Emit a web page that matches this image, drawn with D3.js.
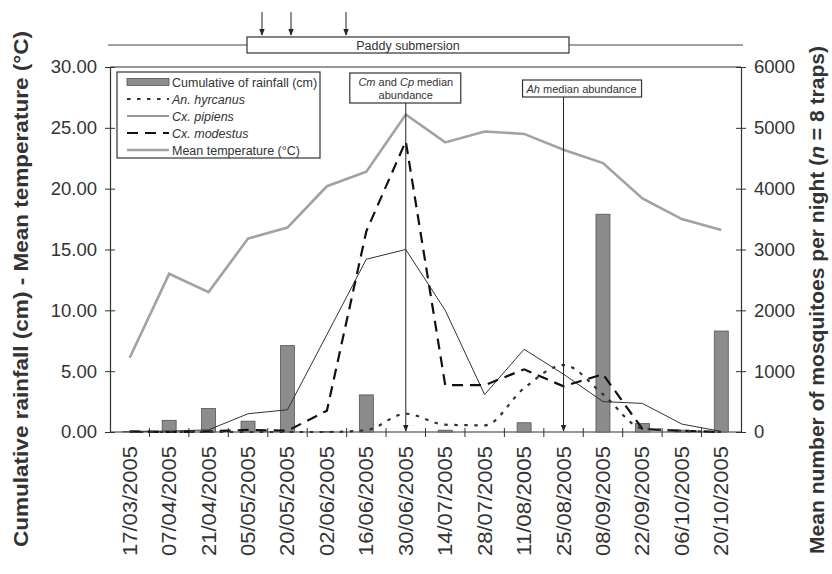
<!DOCTYPE html>
<html>
<head>
<meta charset="utf-8">
<script src="https://cdn.jsdelivr.net/npm/d3@7"></script>
<style>
  body { margin: 0; background: #fff; }
  text { font-family: "Liberation Sans", Arial, sans-serif; fill: #333; }
</style>
</head>
<body>
<svg id="chart"></svg>
<script>
// ===== DATA =====
const dates = ["17/03/2005", "07/04/2005", "21/04/2005", "05/05/2005", "20/05/2005", "02/06/2005",
    "16/06/2005", "30/06/2005", "14/07/2005", "28/07/2005", "11/08/2005", "25/08/2005",
    "08/09/2005", "22/09/2005", "06/10/2005", "20/10/2005"];
const rainfall = [0.05, 0.96, 1.93, 0.89, 7.1, 0.03, 3.05, 0, 0.15, 0, 0.76, 0, 17.9, 0.69, 0.15, 8.3];
const temperature = [6.1, 13.0, 11.5, 15.9, 16.8, 20.2, 21.4, 26.1, 23.8, 24.7, 24.5, 23.2, 22.1, 19.2, 17.5, 16.6];
const hyrcanus = [0, 0, 0, 0, 0, 0, 30, 300, 120, 110, 720, 1100, 620, 60, 20, 0];
const pipiens = [10, 15, 35, 300, 365, 1600, 2840, 3000, 2000, 615, 1360, 950, 500, 470, 130, 10];
const modestus = [10, 0, 10, 35, 20, 350, 3300, 4780, 770, 770, 1030, 750, 950, 50, 20, 0];
const leftTicks = [0, 5, 10, 15, 20, 25, 30];
const rightTicks = [0, 1000, 2000, 3000, 4000, 5000, 6000];

const width = 832, height = 574;
const margin = { left: 110, right: 91, top: 67, bottom: 142 };

const svg = d3.select("svg#chart")
    .attr("width", width)
    .attr("height", height);

svg.append("defs").append("marker")
    .attr("id", "arrow")
    .attr("viewBox", "0 0 10 10")
    .attr("refX", 9).attr("refY", 5)
    .attr("markerWidth", 7).attr("markerHeight", 7)
    .attr("orient", "auto")
    .append("path")
    .attr("d", "M0,1 L10,5 L0,9 z")
    .attr("fill", "#222");

const x = d3.scaleBand()
    .domain(dates)
    .range([margin.left, width - margin.right]);

const yLeft = d3.scaleLinear()
    .domain([0, 30])
    .range([height - margin.bottom, margin.top]);

const yRight = d3.scaleLinear()
    .domain([0, 6000])
    .range([height - margin.bottom, margin.top]);

const cx = (i) => x(dates[i]) + x.bandwidth() / 2;

// ===== FRAME =====
svg.append("line")
    .attr("x1", margin.left).attr("x2", width - margin.right)
    .attr("y1", margin.top).attr("y2", margin.top)
    .attr("stroke", "#333").attr("stroke-width", 1.2);

// left axis
const gLeft = svg.append("g")
    .attr("transform", `translate(${margin.left},0)`)
    .call(d3.axisLeft(yLeft).tickValues(leftTicks).tickFormat(d3.format(".2f")).tickSize(5).tickPadding(8));
gLeft.selectAll(".tick line").clone().attr("x2", 5);

// right axis
const gRight = svg.append("g")
    .attr("transform", `translate(${width - margin.right},0)`)
    .call(d3.axisRight(yRight).tickValues(rightTicks).tickFormat(d3.format("d")).tickSize(5).tickPadding(8));
gRight.selectAll(".tick line").clone().attr("x2", -5);

// bottom axis (ticks between categories)
const gBottom = svg.append("g")
    .attr("transform", `translate(0,${height - margin.bottom})`);
gBottom.append("line")
    .attr("x1", margin.left).attr("x2", width - margin.right)
    .attr("stroke", "#333").attr("stroke-width", 1.2);
gBottom.selectAll("line.tk")
    .data(dates.slice(1))
    .join("line")
    .attr("class", "tk")
    .attr("x1", d => x(d)).attr("x2", d => x(d))
    .attr("y1", -4).attr("y2", 5)
    .attr("stroke", "#333");
gBottom.selectAll("text.lab")
    .data(dates)
    .join("text")
    .attr("class", "lab")
    .attr("transform", d => `translate(${x(d) + x.bandwidth() / 2 + 7},14) rotate(-90)`)
    .attr("text-anchor", "end")
    .attr("font-size", 20)
    .attr("textLength", 110)
    .attr("lengthAdjust", "spacingAndGlyphs")
    .text(d => d);

[gLeft, gRight].forEach(g => {
    g.select(".domain").attr("stroke", "#333").attr("stroke-width", 1.2);
    g.selectAll(".tick line").attr("stroke", "#333");
    g.selectAll(".tick text").attr("font-size", 18.5).attr("fill", "#333")
        .attr("font-family", "Liberation Sans, Arial, sans-serif");
});

// ===== BARS =====
const barW = 14;
svg.append("g").selectAll("rect")
    .data(rainfall)
    .join("rect")
    .attr("x", (d, i) => cx(i) - barW / 2)
    .attr("width", barW)
    .attr("y", d => yLeft(d))
    .attr("height", d => yLeft(0) - yLeft(d))
    .attr("fill", "#8c8c8c")
    .attr("stroke", "#555")
    .attr("stroke-width", 0.8);

// ===== LINES =====
const lineLeft = d3.line().x((d, i) => cx(i)).y(d => yLeft(d));
const lineRight = d3.line().x((d, i) => cx(i)).y(d => yRight(d));
const lineSmooth = d3.line().x((d, i) => cx(i)).y(d => yRight(d)).curve(d3.curveMonotoneX);

const series = [
    { data: temperature, gen: lineLeft, stroke: "#a2a2a2", width: 2.6, dash: null },
    { data: pipiens, gen: lineRight, stroke: "#333", width: 1, dash: null },
    { data: modestus, gen: lineRight, stroke: "#111", width: 2.2, dash: "11,7" },
    { data: hyrcanus, gen: lineSmooth, stroke: "#333", width: 2.2, dash: "3.5,6.5" }
];
svg.append("g").selectAll("path")
    .data(series)
    .join("path")
    .attr("d", s => s.gen(s.data))
    .attr("fill", "none")
    .attr("stroke", s => s.stroke)
    .attr("stroke-width", s => s.width)
    .attr("stroke-dasharray", s => s.dash);

// ===== ANNOTATIONS =====
// Cm and Cp median abundance
const xCm = cx(7), xAh = cx(11);
svg.append("line")
    .attr("x1", xCm).attr("x2", xCm).attr("y1", 103).attr("y2", yLeft(0) - 1)
    .attr("stroke", "#222").attr("stroke-width", 1)
    .attr("marker-end", "url(#arrow)");
svg.append("rect")
    .attr("x", xCm - 56).attr("y", 73).attr("width", 111).attr("height", 30)
    .attr("fill", "#fff").attr("stroke", "#333").attr("stroke-width", 1.2);
const cmText = svg.append("text")
    .attr("x", xCm).attr("y", 86).attr("text-anchor", "middle").attr("font-size", 11);
cmText.append("tspan").attr("font-style", "italic").text("Cm");
cmText.append("tspan").text(" and ");
cmText.append("tspan").attr("font-style", "italic").text("Cp");
cmText.append("tspan").text(" median");
svg.append("text")
    .attr("x", xCm).attr("y", 99).attr("text-anchor", "middle").attr("font-size", 11)
    .text("abundance");

// Ah median abundance
svg.append("line")
    .attr("x1", xAh).attr("x2", xAh).attr("y1", 97).attr("y2", yLeft(0) - 1)
    .attr("stroke", "#222").attr("stroke-width", 1)
    .attr("marker-end", "url(#arrow)");
svg.append("rect")
    .attr("x", xAh - 41).attr("y", 80).attr("width", 119).attr("height", 17)
    .attr("fill", "#fff").attr("stroke", "#333").attr("stroke-width", 1.2);
const ahText = svg.append("text")
    .attr("x", xAh + 18).attr("y", 92.5).attr("text-anchor", "middle").attr("font-size", 11);
ahText.append("tspan").attr("font-style", "italic").text("Ah");
ahText.append("tspan").text(" median abundance");

// ===== PADDY SUBMERSION =====
svg.append("line")
    .attr("x1", 108).attr("x2", 743).attr("y1", 45).attr("y2", 45)
    .attr("stroke", "#444").attr("stroke-width", 1.2);
svg.append("rect")
    .attr("x", 247).attr("y", 37).attr("width", 322).attr("height", 16)
    .attr("fill", "#fff").attr("stroke", "#333").attr("stroke-width", 1.2);
svg.append("text")
    .attr("x", 408).attr("y", 49.5).attr("text-anchor", "middle").attr("font-size", 12.5)
    .text("Paddy submersion");
svg.append("g").selectAll("line")
    .data([262, 291, 346])
    .join("line")
    .attr("x1", d => d).attr("x2", d => d)
    .attr("y1", 12).attr("y2", 35)
    .attr("stroke", "#222").attr("stroke-width", 1)
    .attr("marker-end", "url(#arrow)");

// ===== LEGEND =====
const legend = svg.append("g");
legend.append("rect")
    .attr("x", 117).attr("y", 72).attr("width", 203).attr("height", 86)
    .attr("fill", "#fff").attr("stroke", "#333").attr("stroke-width", 1.2);
const legItems = [
    { label: "Cumulative of rainfall (cm)", italic: false, type: "bar" },
    { label: "An. hyrcanus", italic: true, s: series[3] },
    { label: "Cx. pipiens", italic: true, s: series[1] },
    { label: "Cx. modestus", italic: true, s: series[2] },
    { label: "Mean temperature (°C)", italic: false, s: series[0] }
];
legItems.forEach((it, i) => {
    const yy = 82 + i * 17;
    if (it.type === "bar") {
        legend.append("rect")
            .attr("x", 127).attr("y", yy - 3.5).attr("width", 42).attr("height", 7)
            .attr("fill", "#8c8c8c").attr("stroke", "#555").attr("stroke-width", 0.8);
    } else {
        legend.append("line")
            .attr("x1", 127).attr("x2", 169).attr("y1", yy).attr("y2", yy)
            .attr("stroke", it.s.stroke).attr("stroke-width", it.s.width)
            .attr("stroke-dasharray", it.s.dash);
    }
    legend.append("text")
        .attr("x", 172).attr("y", yy + 4.5)
        .attr("font-size", 12.5)
        .attr("font-style", it.italic ? "italic" : "normal")
        .text(it.label);
});

// ===== AXIS TITLES =====
svg.append("text")
    .attr("transform", `translate(28,289) rotate(-90)`)
    .attr("text-anchor", "middle")
    .attr("font-size", 20).attr("font-weight", "bold")
    .attr("textLength", 516).attr("lengthAdjust", "spacingAndGlyphs")
    .text("Cumulative rainfall (cm) - Mean temperature (°C)");
const rt = svg.append("text")
    .attr("transform", `translate(824,300) rotate(-90)`)
    .attr("text-anchor", "middle")
    .attr("font-size", 20).attr("font-weight", "bold")
    .attr("textLength", 508).attr("lengthAdjust", "spacingAndGlyphs");
rt.append("tspan").text("Mean number of mosquitoes per night (");
rt.append("tspan").attr("font-style", "italic").text("n");
rt.append("tspan").text(" = 8 traps)");
</script>
</body>
</html>
